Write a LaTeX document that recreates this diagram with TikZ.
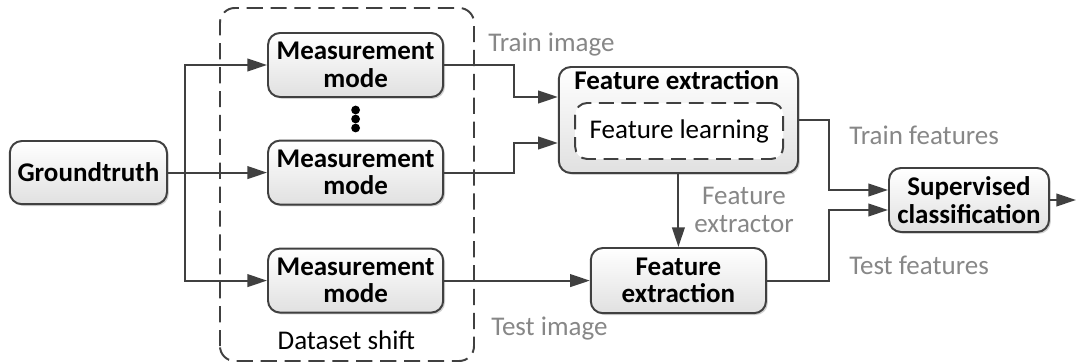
\documentclass[tikz,border=0pt]{standalone}
\usepackage{fontspec}
\setmainfont{Carlito}
\usepackage{xcolor}
\usetikzlibrary{arrows.meta,shadows}

\definecolor{linegray}{HTML}{404040}
\definecolor{labelgray}{HTML}{878787}

\tikzset{
  blk/.style={draw=linegray, line width=1.4pt, rounded corners=0.3cm,
    top color=white, bottom color=black!12,
    drop shadow={shadow xshift=1.3pt, shadow yshift=-1.3pt, fill=black!35, opacity=0.5},
    font=\bfseries\fontsize{19.2}{19.5}\selectfont, align=center, inner sep=0pt},
  lbl/.style={text=labelgray, font=\fontsize{19.2}{20}\selectfont, inner sep=0pt, align=center},
  arr/.style={draw=linegray, line width=1.4pt, -{Triangle[length=14pt,width=9pt]}},
  dsh/.style={draw=linegray, line width=1.4pt, dash pattern=on 11.5pt off 5.5pt, rounded corners=0.37cm}
}

\begin{document}
\begin{tikzpicture}

\useasboundingbox (0,0) rectangle (26.9,9.075);

\draw[dsh] (5.5,0.05) rectangle (11.85,8.875);
\node[font=\fontsize{19.2}{20}\selectfont, anchor=base, inner sep=0pt] (dshift) at (8.66,0.325) {Dataset shift};

\node[blk, minimum width=3.93cm, minimum height=1.58cm] (gt) at (2.21,4.76) {Groundtruth};
\node[blk, minimum width=4.38cm, minimum height=1.6cm] (mm1) at (8.89,7.45) {Measurement\\mode};
\node[blk, minimum width=4.38cm, minimum height=1.6cm] (mm2) at (8.89,4.76) {Measurement\\mode};
\node[blk, minimum width=4.38cm, minimum height=1.6cm] (mm3) at (8.89,2.06) {Measurement\\mode};
\foreach \y in {6.325,6.1,5.875}
  \fill (8.89,\y) circle (0.11cm);

\node[blk, minimum width=5.98cm, minimum height=2.65cm] (fetr) at (16.96,6.075) {};
\node[font=\bfseries\fontsize{19.2}{19.5}\selectfont, anchor=base, inner sep=0pt] (fetrtitle) at (16.92,6.825) {Feature extraction};
\node[dsh, dash pattern=on 10.5pt off 5.5pt, rounded corners=0.3cm, fill=white,
  minimum width=5.2cm, minimum height=1.4cm,
  font=\fontsize{19.2}{19.5}\selectfont] (flearn) at (16.98,5.8) {Feature learning};
\node[blk, minimum width=4.38cm, minimum height=1.63cm] (fete) at (16.96,2.06) {Feature\\extraction};
\node[blk, minimum width=4.0cm, minimum height=1.6cm] (sup) at (24.225,4.075) {Supervised\\classification};

\coordinate (split) at (4.625,4.76);
\coordinate (out) at (26.9,4.075);

\draw[arr] (gt.east) -- (mm2.west);
\draw[arr] (split) |- (mm1.west);
\draw[arr] (split) |- (mm3.west);
\draw[arr] (mm1.east) -- ++(1.75,0) |- ([yshift=0.575cm]fetr.west);
\draw[arr] (mm2.east) -- ++(1.75,0) |- ([yshift=-0.575cm]fetr.west);
\draw[arr] (mm3.east) -- (fete.west);
\draw[arr] (fetr.south) -- (fete.north);
\draw[arr] (fetr.east) -- ++(0.75,0) |- ([yshift=0.25cm]sup.west);
\draw[arr] (fete.east) -- ++(1.55,0) |- ([yshift=-0.25cm]sup.west);
\draw[arr] (sup.east) -- (out);

\node[lbl, anchor=base west] (trimg) at (12.2,7.775) {Train image};
\node[lbl, anchor=base west] (teimg) at (12.275,0.675) {Test image};
\node[lbl] (fextr) at (18.6,3.83) {Feature\\extractor};
\node[lbl, anchor=base west] (trfeat) at (21.225,5.45) {Train features};
\node[lbl, anchor=base west] (tefeat) at (21.225,2.2) {Test features};

\end{tikzpicture}
\end{document}
